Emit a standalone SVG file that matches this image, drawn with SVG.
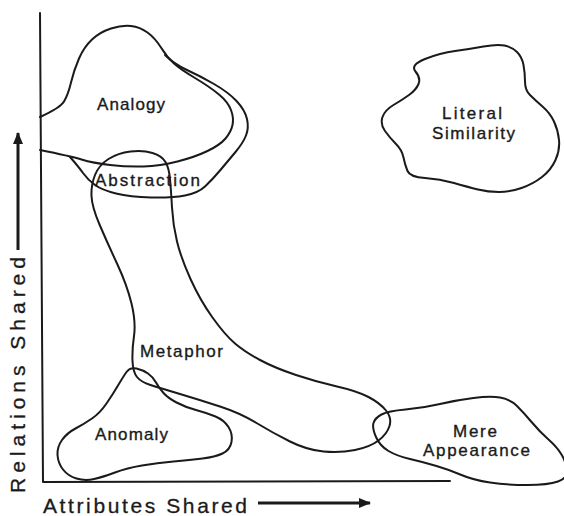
<svg xmlns="http://www.w3.org/2000/svg" width="564" height="516" viewBox="0 0 564 516">
<style>
.r{fill:none;stroke:#1a1a1a;stroke-width:2;stroke-linejoin:round;stroke-linecap:round}
.t{font-family:"Liberation Sans",Arial,Helvetica,sans-serif;font-size:17px;fill:#1a1a1a;stroke:#1a1a1a;stroke-width:0.35}
.ax{font-family:"Liberation Sans",Arial,Helvetica,sans-serif;font-size:21px;fill:#1a1a1a;stroke:#1a1a1a;stroke-width:0.3}
</style>
<defs>
<marker id="ah" viewBox="0 0 12 10" refX="11" refY="5" markerWidth="12" markerHeight="10" markerUnits="userSpaceOnUse" orient="auto">
<path d="M0,0 L12,5 L0,10 Z" fill="#1a1a1a"/>
</marker>
</defs>
<rect width="564" height="516" fill="#fff"/>
<g id="axes">
<path class="r" d="M40,13 L43,482 L450,481"/>
<line x1="18" y1="250" x2="18" y2="133" stroke="#1a1a1a" stroke-width="3" marker-end="url(#ah)"/>
<line x1="258" y1="503" x2="370" y2="503" stroke="#1a1a1a" stroke-width="3" marker-end="url(#ah)"/>
<text class="ax" x="43" y="513" textLength="204" lengthAdjust="spacing">Attributes Shared</text>
<text class="ax" transform="translate(25,493) rotate(-90)" x="0" y="0" textLength="236" lengthAdjust="spacing">Relations Shared</text>
</g>
<g id="analogy">
<path class="r" d="M40,117 Q60,108 64,101.5 Q68,95 71,82.5 Q74,70 79,58.5 Q84,47 92,39.5 Q100,32 111,28.5 Q122,25 131,26 Q140,27 147.5,32.5 Q155,38 161,47.5 Q167,57 173.5,63 Q180,69 195,78 Q210,87 219,94.5 Q228,102 231,110 Q234,118 232.5,125 Q231,132 225.5,138.5 Q220,145 207.5,151 Q195,157 177.5,161.5 Q160,166 143.5,166.5 Q127,167 110,165 Q93,163 81.5,159.5 Q70,156 40,150"/>
<text class="t" x="97" y="110" textLength="68" lengthAdjust="spacing">Analogy</text>
</g>
<g id="abstraction">
<path class="r" d="M165,55 Q174,64 187,70 Q200,76 214,84 Q228,92 236.5,101 Q245,110 247,119 Q249,128 246,135.5 Q243,143 235.5,152 Q228,161 220,170.5 Q212,180 205,186.5 Q198,193 185,195.5 Q172,198 151,197.5 Q130,197 116,193.5 Q102,190 95,185 Q88,180 83,173 Q78,166 70,157"/>
<text class="t" x="95" y="186" textLength="105" lengthAdjust="spacing">Abstraction</text>
</g>
<g id="literal-similarity">
<path class="r" d="M415.5,71.5 Q410,65 425,59 Q440,53 455,51 Q470,49 483.5,46.5 Q497,44 504.5,45.5 Q512,47 517,52 Q522,57 523.5,65 Q525,73 525,81.5 Q525,90 530,95 Q535,100 542.5,106.5 Q550,113 554,121.5 Q558,130 559,140 Q560,150 555.5,160 Q551,170 542,177 Q533,184 521.5,188 Q510,192 499,192 Q488,192 478,189.5 Q468,187 454,183 Q440,179 425,178 Q410,177 407.5,171 Q405,165 403.5,157.5 Q402,150 396,144 Q390,138 385,131 Q380,124 382.5,117 Q385,110 393.5,105 Q402,100 409,95 Q416,90 418.5,84 Q421,78 415.5,71.5 Z"/>
<text class="t" x="442" y="119" textLength="60" lengthAdjust="spacing">Literal</text>
<text class="t" x="432" y="139" textLength="83" lengthAdjust="spacing">Similarity</text>
</g>
<g id="metaphor">
<path class="r" d="M99.5,224.5 Q92,207 91.5,196 Q91,185 95,175 Q99,165 108.5,159 Q118,153 130.5,151.5 Q143,150 152.5,153 Q162,156 165.5,162 Q169,168 170,179 Q171,190 172,207.5 Q173,225 177,241.5 Q181,258 190.5,279 Q200,300 212.5,317.5 Q225,335 235,343.5 Q245,352 260,360 Q275,368 296,375 Q317,382 337,386.5 Q357,391 368.5,397 Q380,403 386,410.5 Q392,418 389.5,426 Q387,434 378.5,440.5 Q370,447 355,450 Q340,453 323.5,451.5 Q307,450 290,441.5 Q273,433 256.5,423 Q240,413 220,406.5 Q200,400 180,394 Q160,388 150.5,385 Q141,382 137,377 Q133,372 132.5,361 Q132,350 134,336 Q136,322 131.5,303.5 Q127,285 117,263.5 Q107,242 99.5,224.5 Z"/>
<text class="t" x="140" y="357" textLength="83" lengthAdjust="spacing">Metaphor</text>
</g>
<g id="anomaly">
<path class="r" d="M126.5,372 Q130,367 136.5,368.5 Q143,370 148,373.5 Q153,377 156,382.5 Q159,388 163.5,393 Q168,398 176.5,402.5 Q185,407 196,410 Q207,413 215.5,416.5 Q224,420 228.5,427 Q233,434 231.5,442 Q230,450 222.5,453.5 Q215,457 202.5,458.5 Q190,460 173.5,461.5 Q157,463 142,465.5 Q127,468 115,472.5 Q103,477 94,479 Q85,481 76.5,478.5 Q68,476 63,469.5 Q58,463 57.5,455 Q57,447 62,440 Q67,433 75.5,428.5 Q84,424 92,418.5 Q100,413 106.5,403.5 Q113,394 118,385.5 Q123,377 126.5,372 Z"/>
<text class="t" x="95" y="440" textLength="73" lengthAdjust="spacing">Anomaly</text>
</g>
<g id="mere-appearance">
<path class="r" d="M376,437 Q372,428 373.5,423 Q375,418 381.5,414.5 Q388,411 405.5,409.5 Q423,408 440,404 Q457,400 473.5,398 Q490,396 500,397.5 Q510,399 517,406 Q524,413 532,422.5 Q540,432 548.5,439.5 Q557,447 561.5,454.5 Q566,462 567,470 Q568,478 558,481.5 Q548,485 527.5,485 Q507,485 490,482.5 Q473,480 461.5,475 Q450,470 436.5,466 Q423,462 410,459 Q397,456 388.5,451 Q380,446 376,437 Z"/>
<text class="t" x="453" y="437" textLength="44" lengthAdjust="spacing">Mere</text>
<text class="t" x="423" y="456" textLength="107" lengthAdjust="spacing">Appearance</text>
</g>
</svg>
